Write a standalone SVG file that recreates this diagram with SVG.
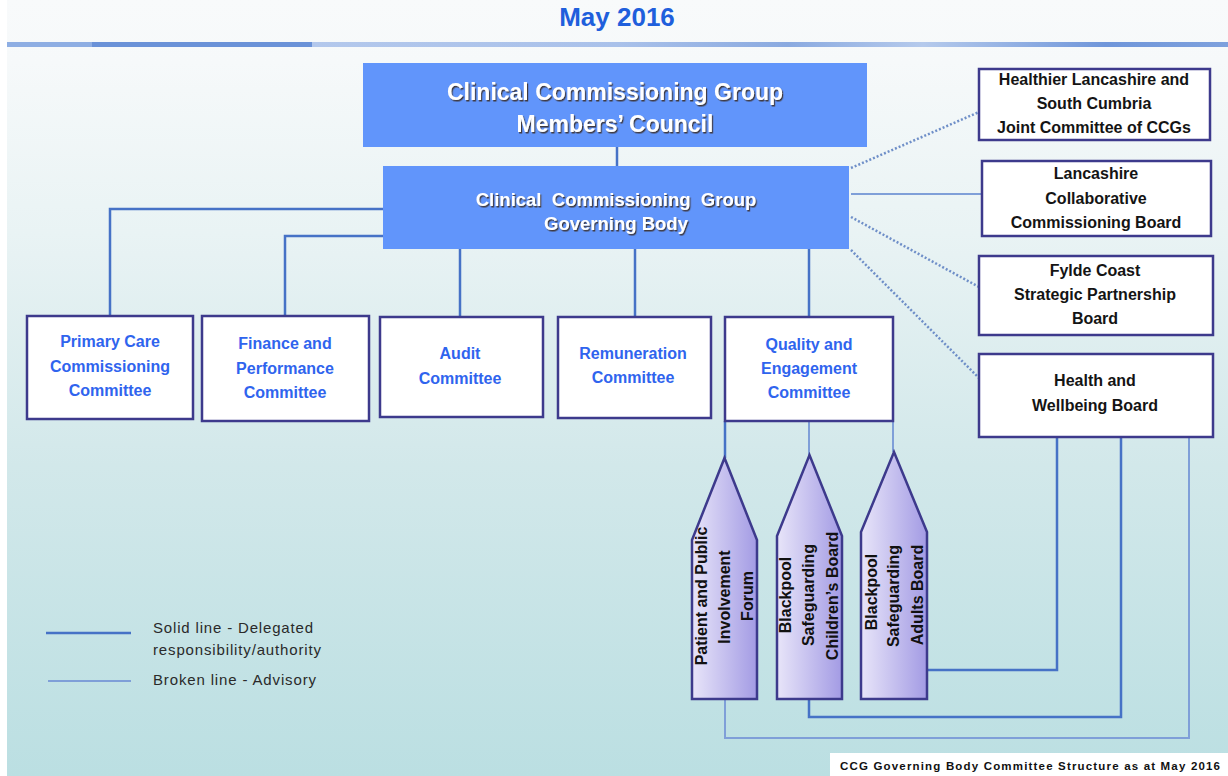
<svg xmlns="http://www.w3.org/2000/svg" width="1228" height="776" viewBox="0 0 1228 776">
<style>
.box{fill:#ffffff;stroke:#3d3a8c;stroke-width:2.5}
.hdr{fill:#6195fb}
.wt{font-family:"Liberation Sans",Arial,sans-serif;font-weight:bold;fill:#ffffff;text-anchor:middle;filter:url(#sh)}
.bt{font-family:"Liberation Sans",Arial,sans-serif;font-weight:bold;font-size:16px;fill:#2f64ee;text-anchor:middle}
.kt{font-family:"Liberation Sans",Arial,sans-serif;font-weight:bold;font-size:16px;fill:#141414;text-anchor:middle}
.pt{font-family:"Liberation Sans",Arial,sans-serif;font-weight:bold;font-size:16px;fill:#111111;text-anchor:middle}
.lg{font-family:"Liberation Sans",Arial,sans-serif;font-size:15px;fill:#2a2a2a}
.solid{fill:none;stroke:#4672c6;stroke-width:2.5}
.light{fill:none;stroke:#7f9fd8;stroke-width:2}
.dot{fill:none;stroke:#6f8fc8;stroke-width:2.5;stroke-dasharray:2 2}
.pent{fill:url(#pg);stroke:#3d3a8c;stroke-width:2.5}
</style>
<defs>
<linearGradient id="bg" x1="0" y1="0" x2="0" y2="1">
<stop offset="0" stop-color="#f8fafb"/>
<stop offset="0.08" stop-color="#f6f9fa"/>
<stop offset="0.3" stop-color="#e9f3f4"/>
<stop offset="0.6" stop-color="#d2e8ea"/>
<stop offset="1" stop-color="#bbdfe2"/>
</linearGradient>
<linearGradient id="pg" x1="0" y1="0" x2="1" y2="0">
<stop offset="0" stop-color="#e8e5f9"/>
<stop offset="1" stop-color="#a39be4"/>
</linearGradient>
<linearGradient id="stripe" x1="0" y1="0" x2="1" y2="0">
<stop offset="0" stop-color="#8eaee3"/>
<stop offset="0.07" stop-color="#8eaee3"/>
<stop offset="0.07" stop-color="#6a92d8"/>
<stop offset="0.25" stop-color="#6a92d8"/>
<stop offset="0.25" stop-color="#b3c8ec"/>
<stop offset="0.5" stop-color="#a9c1ea"/>
<stop offset="0.64" stop-color="#8aaae0"/>
<stop offset="0.75" stop-color="#b5caec"/>
<stop offset="0.9" stop-color="#6f96da"/>
<stop offset="1" stop-color="#7ea1dd"/>
</linearGradient>
<filter id="sh" x="-10%" y="-30%" width="120%" height="160%">
<feDropShadow dx="1.2" dy="1.5" stdDeviation="0.6" flood-color="#3a2c1c" flood-opacity="0.85"/>
</filter>
</defs>

<rect x="0" y="0" width="1228" height="776" fill="#ffffff"/>
<rect x="7" y="0" width="1221" height="776" fill="url(#bg)"/>
<rect x="7" y="42" width="1221" height="5" fill="url(#stripe)"/>
<text x="617" y="26" font-family="'Liberation Sans',Arial,sans-serif" font-weight="bold" font-size="26" fill="#1f5fdc" text-anchor="middle">May 2016</text>

<g id="connectors">
<path class="solid" d="M617,147 V166"/>
<path class="solid" d="M383,209 H110 V316"/>
<path class="solid" d="M383,236 H285 V316"/>
<path class="solid" d="M460,249 V317"/>
<path class="solid" d="M635,249 V317"/>
<path class="solid" d="M809,249 V317"/>
<path class="solid" d="M725,421 V458"/>
<path class="light" d="M809,421 V455"/>
<path class="light" d="M893,421 V452"/>
<path class="dot" d="M851,168 L979,112"/>
<path class="light" d="M851,194 H982"/>
<path class="dot" d="M851,217 L979,287"/>
<path class="dot" d="M851,250 L979,378"/>
<path class="solid" d="M1057,437 V670 H927"/>
<path class="solid" d="M1121,437 V717 H809 V699"/>
<path class="light" d="M1189,437 V738 H725 V699"/>
</g>

<g id="members-council">
<rect class="hdr" x="363" y="63" width="504" height="84"/>
<text class="wt" x="615" y="100" font-size="23">Clinical Commissioning Group</text>
<text class="wt" x="615" y="132" font-size="23">Members’ Council</text>
</g>

<g id="governing-body">
<rect class="hdr" x="383" y="166" width="466" height="83"/>
<text class="wt" x="616" y="206" font-size="18.5" xml:space="preserve">Clinical  Commissioning  Group</text>
<text class="wt" x="616" y="230" font-size="18.5">Governing Body</text>
</g>

<g id="primary-care">
<rect class="box" x="27" y="316" width="166" height="103"/>
<text class="bt" x="110" y="347">Primary Care</text>
<text class="bt" x="110" y="372">Commissioning</text>
<text class="bt" x="110" y="396">Committee</text>
</g>

<g id="finance">
<rect class="box" x="202" y="316" width="167" height="105"/>
<text class="bt" x="285" y="349">Finance and</text>
<text class="bt" x="285" y="374">Performance</text>
<text class="bt" x="285" y="398">Committee</text>
</g>

<g id="audit">
<rect class="box" x="380" y="317" width="163" height="100"/>
<text class="bt" x="460" y="359">Audit</text>
<text class="bt" x="460" y="384">Committee</text>
</g>

<g id="remuneration">
<rect class="box" x="558" y="317" width="153" height="101"/>
<text class="bt" x="633" y="359">Remuneration</text>
<text class="bt" x="633" y="383">Committee</text>
</g>

<g id="quality">
<rect class="box" x="725" y="317" width="168" height="104"/>
<text class="bt" x="809" y="350">Quality and</text>
<text class="bt" x="809" y="374">Engagement</text>
<text class="bt" x="809" y="398">Committee</text>
</g>

<g id="healthier-lancashire">
<rect class="box" x="979" y="69" width="231" height="71"/>
<text class="kt" x="1094" y="85">Healthier Lancashire and</text>
<text class="kt" x="1094" y="109">South Cumbria</text>
<text class="kt" x="1094" y="133">Joint Committee of CCGs</text>
</g>

<g id="lancashire-collaborative">
<rect class="box" x="982" y="161" width="229" height="75"/>
<text class="kt" x="1096" y="179">Lancashire</text>
<text class="kt" x="1096" y="204">Collaborative</text>
<text class="kt" x="1096" y="228">Commissioning Board</text>
</g>

<g id="fylde-coast">
<rect class="box" x="979" y="256" width="234" height="79"/>
<text class="kt" x="1095" y="276">Fylde Coast</text>
<text class="kt" x="1095" y="300">Strategic Partnership</text>
<text class="kt" x="1095" y="324">Board</text>
</g>

<g id="health-wellbeing">
<rect class="box" x="979" y="354" width="234" height="83"/>
<text class="kt" x="1095" y="386">Health and</text>
<text class="kt" x="1095" y="411">Wellbeing Board</text>
</g>

<g id="patient-forum">
<path class="pent" d="M692,699 V540 L724.5,458 L757,540 V699 Z"/>
<text class="pt" transform="translate(706.5,596) rotate(-90)">Patient and Public</text>
<text class="pt" transform="translate(729.5,597) rotate(-90)">Involvement</text>
<text class="pt" transform="translate(753,596) rotate(-90)">Forum</text>
</g>

<g id="safeguarding-children">
<path class="pent" d="M777,699 V536 L809.5,455 L842,536 V699 Z"/>
<text class="pt" transform="translate(790.5,595) rotate(-90)">Blackpool</text>
<text class="pt" transform="translate(813.5,595) rotate(-90)">Safeguarding</text>
<text class="pt" transform="translate(837.5,596) rotate(-90)">Children’s Board</text>
</g>

<g id="safeguarding-adults">
<path class="pent" d="M861,699 V532 L894,452 L927,532 V699 Z"/>
<text class="pt" transform="translate(876.5,592) rotate(-90)">Blackpool</text>
<text class="pt" transform="translate(898.5,596) rotate(-90)">Safeguarding</text>
<text class="pt" transform="translate(923,595) rotate(-90)">Adults Board</text>
</g>

<g id="legend">
<line class="solid" x1="46" y1="633" x2="131" y2="633"/>
<line class="light" x1="48" y1="681" x2="131" y2="681"/>
<text class="lg" x="153" y="633" textLength="160">Solid line - Delegated</text>
<text class="lg" x="153" y="655" textLength="168">responsibility/authority</text>
<text class="lg" x="153" y="685" textLength="163">Broken line - Advisory</text>
</g>

<g id="caption">
<rect x="830" y="753" width="398" height="23" fill="#ffffff"/>
<text x="840" y="770" font-family="'Liberation Sans',Arial,sans-serif" font-weight="bold" font-size="11.5" fill="#111111" textLength="380">CCG Governing Body Committee Structure as at May 2016</text>
</g>
</svg>
